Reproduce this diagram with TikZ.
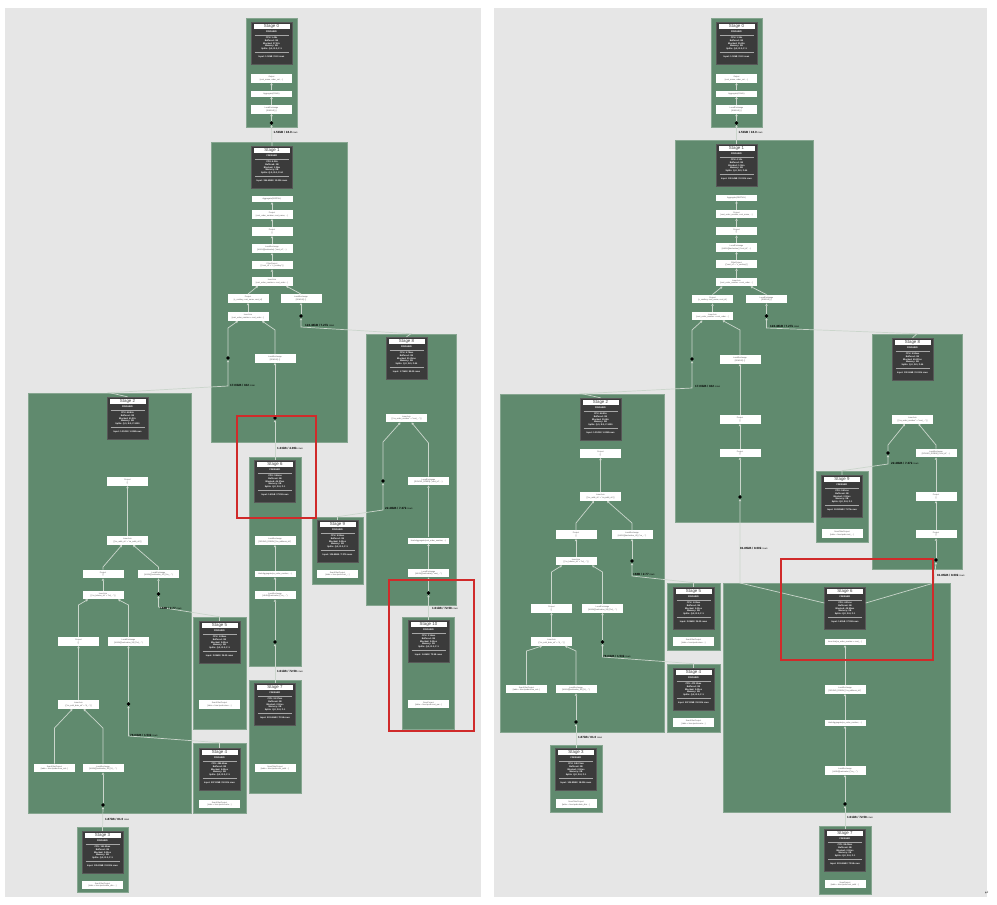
\documentclass[tikz,border=0pt]{standalone}
\usepackage{fontspec}
\setmainfont{Liberation Sans}
\newfontfamily\dejavu{DejaVu Sans}
\usetikzlibrary{arrows.meta}
\definecolor{panelgray}{HTML}{E6E6E6}
\definecolor{stggreen}{HTML}{608A6E}
\definecolor{stgborder}{HTML}{86A690}
\definecolor{dkgray}{HTML}{3B3B3B}
\definecolor{dkborder}{HTML}{575757}
\definecolor{headtext}{HTML}{444444}
\definecolor{optext}{HTML}{555555}
\definecolor{connc}{HTML}{CBD6CC}
\definecolor{redc}{HTML}{D02A2A}
\tikzset{
 panel/.style={fill=panelgray,draw=none},
 stg/.style={fill=stggreen,draw=stgborder,line width=0.6pt,inner sep=0pt},
 dk/.style={fill=dkgray,draw=dkborder,line width=0.4pt,minimum width=41pt,minimum height=42pt,inner sep=0pt},
 dkhead/.style={fill=white,minimum width=36pt,minimum height=5.5pt,inner sep=0pt,font=\fontsize{4.4}{4.4}\selectfont,text=headtext},
 dkfin/.style={text=white,font=\fontsize{2.3}{2.3}\selectfont\bfseries,inner sep=0pt},
 dkstat/.style={text=white,font=\fontsize{2.2}{2.8}\selectfont\bfseries,align=center,inner sep=0pt},
 dksep/.style={draw=white!55!dkgray,line width=0.3pt},
 opbox/.style={fill=white,minimum width=41pt,minimum height=8.5pt,inner sep=0pt,align=center,font=\fontsize{2}{2.5}\selectfont,text=optext},
 oponebox/.style={opbox,minimum height=6pt},
 conn/.style={draw=connc,line width=0.7pt},
 arr/.style={conn,-{Triangle[width=2.4pt,length=2.2pt]}},
 rdotst/.style={circle,fill=black,minimum size=3.6pt,inner sep=0pt},
 elabst/.style={anchor=west,inner sep=0pt,font=\fontsize{3}{3}\selectfont,text=black},
 redbox/.style={draw=redc,line width=1.1pt},
}
\newcommand\stgbox[5]{%
 \pgfmathsetmacro\mysw{#4-#2}\pgfmathsetmacro\mysh{#5-#3}%
 \pgfmathsetmacro\mycx{(#2+#4)/2}\pgfmathsetmacro\mycy{(#3+#5)/2}%
 \node[stg,minimum width=\mysw pt,minimum height=\mysh pt] (#1) at (\mycx,\mycy) {};}
\newcommand\dkn[6]{%
 \node[dk] (#1) at (#2,#3+21) {};
 \node[dkhead] (#1-h) at (#2,#3+4.5) {Stage #4};
 \node[dkfin] (#1-f) at (#2,#3+10) {FINISHED};
 \draw[dksep] (#2-17,#3+13) -- (#2+17,#3+13);
 \node[dkstat] (#1-s) at (#2,#3+21.5) {#5};
 \draw[dksep] (#2-17,#3+30.5) -- (#2+17,#3+30.5);
 \node[dkstat] (#1-i) at (#2,#3+35) {#6};}
\newcommand\opn[5]{\node[opbox] (#1) at (#2,#3) {#4\\{}#5};}
\newcommand\opo[4]{\node[oponebox] (#1) at (#2,#3) {#4};}
\newcommand\rdt[3]{\node[rdotst] (#1) at (#2,#3) {};}
\newcommand\elb[4]{\node[elabst] (#1) at (#2,#3) {\textbf{#4} {\fontsize{2.4}{2.4}\selectfont rows}};}
\begin{document}
\begin{tikzpicture}[x=1pt,y=-1pt]
\useasboundingbox (0,0) rectangle (997,905);
\fill[white] (0,0) rectangle (997,905);
\fill[panel] (5,8) rectangle (481,897);
\fill[panel] (494,8) rectangle (987,897);
\node[font=\fontsize{5}{5}\selectfont\dejavu,text=black!70,inner sep=0pt] (ret) at (987,893) {↵};

% ================= LEFT PANEL =================
\stgbox{L0}{246}{18}{297}{127}
\stgbox{L1}{211}{142}{347}{442}
\stgbox{L2}{28}{393}{191}{813}
\stgbox{L3}{77}{827}{128}{892}
\stgbox{L4}{193}{743}{246}{813}
\stgbox{L5}{193}{617}{246}{729}
\stgbox{L6}{249}{457}{301}{666}
\stgbox{L7}{249}{680}{301}{793}
\stgbox{L8}{366}{334}{456}{605}
\stgbox{L9}{312}{517}{363}{584}
\stgbox{L10}{402.5}{617}{454.5}{729}

\dkn{L0dk}{271.5}{22}{0}{CPU: 1.48s\\Buffered: 0B\\Blocked: 27.02s\\Memory: 0B\\Splits: Q:0, R:0, F:1}{Input: 1.50kB / 18.0 rows}
\opn{L0a}{271.5}{78.5}{Output}{[cust\_name, order\_cnt, ...]}
\opo{L0b}{271.5}{93.5}{Aggregate(FINAL)}
\opn{L0c}{271.5}{109.5}{LocalExchange}{[SINGLE] ()}
\rdt{L0r}{271.5}{123}

\dkn{L1dk}{272}{146}{1}{CPU: 4.38s\\Buffered: 0B\\Blocked: 1.25m\\Memory: 0B\\Splits: Q:0, R:0, F:44}{Input: 356.60kB / 10.00k rows}
\opo{L1a}{272}{199}{Aggregate(PARTIAL)}
\opn{L1b}{272}{214.5}{Project}{[cust\_order\_number, cust\_name, ...]}
\opn{L1c}{272}{231.5}{Project}{[]}
\opn{L1d}{272}{248.5}{LocalExchange}{[HASH][hashvalue] ("cust\_id", ...)}
\opn{L1e}{272}{265}{FilterProject}{[("cust\_id" = "c\_custkey")]}
\opn{L1f}{272}{281.5}{InnerJoin}{[cust\_order\_number = cust\_order ...]}
\opn{L1g}{248}{298.5}{Project}{[c\_custkey, cust\_name, cust\_id]}
\opn{L1h}{301}{298.5}{LocalExchange}{[SINGLE] ()}
\opn{L1i}{248}{316.5}{InnerJoin}{[cust\_order\_number = cust\_order ...]}
\opn{L1j}{275}{358.5}{LocalExchange}{[SINGLE] ()}
\rdt{L1r1}{301}{316}
\rdt{L1r2}{228}{358}
\rdt{L1r3}{275}{418}

\dkn{L2dk}{127.5}{397}{2}{CPU: 48.84s\\Buffered: 0B\\Blocked: 41.22s\\Memory: 0B\\Splits: Q:0, R:0, F:1000}{Input: 1.31GB / 1.00M rows}
\opn{L2a}{127.5}{481.5}{Project}{[]}
\opn{L2b}{127.5}{540.5}{InnerJoin}{[("ss\_addr\_sk" = "ca\_addr\_sk")]}
\opn{L2c}{103}{574}{Project}{[]}
\opn{L2d}{158.5}{574}{LocalExchange}{[HASH][hashvalue\_41] ("ca\_...")}
\opn{L2e}{103}{595}{InnerJoin}{[("ss\_hdemo\_sk" = "hd\_...")]}
\opn{L2f}{78.5}{641.5}{Project}{[]}
\opn{L2g}{128.5}{641.5}{LocalExchange}{[HASH][hashvalue\_38] ("hd\_...")}
\opn{L2h}{78.5}{704.5}{InnerJoin}{[("ss\_sold\_date\_sk" = "d\_...")]}
\opn{L2i}{54.5}{768}{ScanFilterProject}{[table = hive:tpcds:store\_sal...]}
\opn{L2j}{103}{768}{LocalExchange}{[HASH][hashvalue\_35] ("d\_...")}
\rdt{L2r1}{158.5}{594}
\rdt{L2r2}{128.5}{704}
\rdt{L2r3}{103}{805}

\dkn{L3dk}{102.5}{831}{3}{CPU: 151.40ms\\Buffered: 0B\\Blocked: 0.00ns\\Memory: 0B\\Splits: Q:0, R:0, F:1}{Input: 105.83kB / 18.00k rows}
\opn{L3a}{102.5}{885}{ScanFilterProject}{[table = hive:tpcds:date\_dim ...]}
\dkn{L4dk}{219.5}{748}{4}{CPU: 485.63ms\\Buffered: 0B\\Blocked: 0.00ns\\Memory: 0B\\Splits: Q:0, R:0, F:1}{Input: 507.82kB / 50.00k rows}
\opn{L4a}{219.5}{804}{ScanFilterProject}{[table = hive:tpcds:custo...]}
\dkn{L5dk}{219.5}{621}{5}{CPU: 1.08ms\\Buffered: 0B\\Blocked: 0.00ns\\Memory: 0B\\Splits: Q:0, R:0, F:1}{Input: 2.05kB / 24.00 rows}
\opn{L5a}{219.5}{704.5}{ScanFilterProject}{[table = hive:tpcds:store ...]}
\dkn{L6dk}{275}{460}{6}{CPU: 3.46ms\\Buffered: 0B\\Blocked: 46.37ms\\Memory: 0B\\Splits: Q:0, R:0, F:1}{Input: 1.61kB / 72.58 rows}
\opn{L6a}{275}{540.5}{LocalExchange}{[ROUND\_ROBIN] ("ca\_address\_sk")}
\opo{L6b}{275}{574}{HashAggregate(ca\_order\_number, ...)}
\opn{L6c}{275}{595}{LocalExchange}{[HASH][hashvalue] ("ca\_...")}
\rdt{L6r}{275}{642}
\dkn{L7dk}{275}{683}{7}{CPU: 91.37ms\\Buffered: 0B\\Blocked: 0.00ns\\Memory: 0B\\Splits: Q:0, R:0, F:1}{Input: 503.46kB / 72.58 rows}
\opn{L7a}{275}{768}{ScanFilterProject}{[table = hive:tpcds:cust\_addr ...]}
\dkn{L8dk}{406.5}{337}{8}{CPU: 5.78ms\\Buffered: 0B\\Blocked: 51.20ms\\Memory: 0B\\Splits: Q:0, R:0, F:44}{Input: 1.71kB / 85.00 rows}
\opn{L8a}{406.5}{418}{InnerJoin}{[("ca\_order\_number" = "cust\_...")]}
\opn{L8b}{428.5}{481}{LocalExchange}{[ROUND\_ROBIN] ("cust\_id", ...)}
\opo{L8c}{428.5}{540.5}{HashAggregate(cust\_order\_number, ...)}
\opn{L8d}{428.5}{573}{LocalExchange}{[HASH][hashvalue] ("cust\_...")}
\rdt{L8r1}{383}{481}
\rdt{L8r2}{428.5}{593}
\dkn{L9dk}{337.5}{520}{9}{CPU: 9.95ms\\Buffered: 0B\\Blocked: 0.00ns\\Memory: 0B\\Splits: Q:0, R:0, F:1}{Input: 124.85kB / 7.27k rows}
\opn{L9a}{337.5}{574}{ScanFilterProject}{[table = hive:tpcds:cust\_...]}
\dkn{L10dk}{428.5}{620}{10}{CPU: 2.16ms\\Buffered: 0B\\Blocked: 0.00ns\\Memory: 0B\\Splits: Q:0, R:0, F:1}{Input: 1.61kB / 72.58 rows}
\opn{L10a}{428.5}{704}{ScanProject}{[table = hive:tpcds:cust\_par...]}

% edges inside left stages
\draw[arr] (L0b.north) -- (L0a.south);
\draw[arr] (L0c.north) -- (L0b.south);
\draw[arr] (L0r.north) -- (L0c.south);
\draw[arr] (L1b.north) -- (L1a.south);
\draw[arr] (L1c.north) -- (L1b.south);
\draw[arr] (L1d.north) -- (L1c.south);
\draw[arr] (L1e.north) -- (L1d.south);
\draw[arr] (L1f.north) -- (L1e.south);
\draw[arr] (L1g.north) -- ([xshift=-14pt]L1f.south);
\draw[arr] (L1h.north) -- ([xshift=14pt]L1f.south);
\draw[arr] (L1i.north) -- (L1g.south);
\draw[arr] (L1r1.north) -- (L1h.south);
\draw[arr] (L1r2.north) -- (228,328) -- ([xshift=-10pt]L1i.south);
\draw[arr] (L1j.north) -- (275,330) -- ([xshift=14pt]L1i.south);
\draw[arr] (L1r3.north) -- (L1j.south);
\draw[arr] (L2b.north) -- (L2a.south);
\draw[arr] (L2c.north) -- (103,567) -- ([xshift=-5.5pt]L2b.south);
\draw[arr] (L2d.north) -- (158.5,567) -- ([xshift=5.5pt]L2b.south);
\draw[arr] (L2e.north) -- (L2c.south);
\draw[arr] (L2f.north) -- (78.5,605) -- ([xshift=-15pt]L2e.south);
\draw[arr] (L2g.north) -- (128.5,605) -- ([xshift=15pt]L2e.south);
\draw[arr] (L2h.north) -- (L2f.south);
\draw[arr] (L2r1.north) -- (L2d.south);
\draw[arr] (L2r2.north) -- (L2g.south);
\draw[arr] (L2i.north) -- (54.5,728) -- ([xshift=-6pt]L2h.south);
\draw[arr] (L2j.north) -- (103,728) -- ([xshift=5pt]L2h.south);
\draw[arr] (L2r3.north) -- (L2j.south);
\draw[arr] (L6b.north) -- (L6a.south);
\draw[arr] (L6c.north) -- (L6b.south);
\draw[arr] (L6r.north) -- (L6c.south);
\draw[arr] (L8r1.north) -- (383,442) -- ([xshift=-6pt]L8a.south);
\draw[arr] (L8b.north) -- (428.5,443) -- ([xshift=5pt]L8a.south);
\draw[arr] (L8c.north) -- (L8b.south);
\draw[arr] (L8d.north) -- (L8c.south);
\draw[arr] (L8r2.north) -- (L8d.south);

% cross-stage edges left
\draw[arr] (L1dk.north) -- (L0r.south);
\draw[arr] (L8dk.north) -- (L8.north) -- (301,327) -- (L1r1.south);
\draw[arr] (L2dk.north) -- (L2.north) -- (228,386) -- (L1r2.south);
\draw[arr] (L6dk.north) -- (L1r3.south);
\draw[arr] (L9dk.north) -- (L9.north) -- (383,510) -- (L8r1.south);
\draw[arr] (L10dk.north) -- (L8r2.south);
\draw[arr] (L5dk.north) -- (L5.north) -- (158.5,607) -- (L2r1.south);
\draw[arr] (L4dk.north) -- (L4.north) -- (128.5,736) -- (L2r2.south);
\draw[arr] (L3dk.north) -- (L2r3.south);
\draw[arr] (L7dk.north) -- (L6r.south);

\elb{Lt1}{273.5}{132}{1.50kB / 18.0}
\elb{Lt2}{305}{325}{122.48kB / 7.27k}
\elb{Lt3}{230}{385}{17.03kB / 102}
\elb{Lt4}{277}{448}{1.33kB / 4.00k}
\elb{Lt5}{385}{508}{22.48kB / 7.27k}
\elb{Lt6}{432}{608}{1.61kB / 72.58}
\elb{Lt7}{160}{608}{168B / 2.77}
\elb{Lt8}{130}{735}{78.03kB / 1.53k}
\elb{Lt9}{105}{819}{1.87kB / 81.0}
\elb{Lt10}{277}{671}{1.61kB / 72.58}

% ================= RIGHT PANEL =================
\stgbox{R0}{711}{18}{762}{127}
\stgbox{R1}{675}{140}{813}{522}
\stgbox{R2}{500}{394}{664}{732}
\stgbox{R3}{550}{745}{602}{812}
\stgbox{R4}{667}{664}{720}{732}
\stgbox{R5}{667}{583}{720}{650}
\stgbox{R6}{723}{583}{950}{812}
\stgbox{R7}{819}{826}{871}{894}
\stgbox{R8}{872}{334}{962}{569}
\stgbox{R9}{816}{471}{868}{542}

\dkn{R0dk}{736.5}{22}{0}{CPU: 1.36s\\Buffered: 0B\\Blocked: 25.80s\\Memory: 0B\\Splits: Q:0, R:0, F:1}{Input: 1.50kB / 18.0 rows}
\opn{R0a}{736.5}{78.5}{Output}{[cust\_name, order\_cnt, ...]}
\opo{R0b}{736.5}{93.5}{Aggregate(FINAL)}
\opn{R0c}{736.5}{109.5}{LocalExchange}{[SINGLE] ()}
\rdt{R0r}{736.5}{123}

\dkn{R1dk}{736.5}{144}{1}{CPU: 4.12s\\Buffered: 0B\\Blocked: 1.18m\\Memory: 0B\\Splits: Q:0, R:0, F:44}{Input: 102.64kB / 10.00k rows}
\opo{R1a}{736.5}{198}{Aggregate(PARTIAL)}
\opn{R1b}{736.5}{214}{Project}{[cust\_order\_number, cust\_name, ...]}
\opn{R1c}{736.5}{231}{Project}{[]}
\opn{R1d}{736.5}{247.5}{LocalExchange}{[HASH][hashvalue] ("cust\_id", ...)}
\opn{R1e}{736.5}{264}{FilterProject}{[("cust\_id" = "c\_custkey")]}
\opn{R1f}{736.5}{282}{InnerJoin}{[cust\_order\_number = cust\_order ...]}
\opn{R1g}{712.5}{299}{Project}{[c\_custkey, cust\_name, cust\_id]}
\opn{R1h}{766.5}{299}{LocalExchange}{[SINGLE] ()}
\opn{R1i}{712.5}{316}{InnerJoin}{[cust\_order\_number = cust\_order ...]}
\opn{R1j}{740}{359.5}{LocalExchange}{[SINGLE] ()}
\opn{R1k}{740}{419.5}{Project}{[]}
\opn{R1l}{740}{453}{Project}{[]}
\rdt{R1r1}{766.5}{316}
\rdt{R1r2}{692}{359}
\rdt{R1r3}{740}{497}

\dkn{R2dk}{600.5}{398}{2}{CPU: 46.95s\\Buffered: 0B\\Blocked: 39.68s\\Memory: 0B\\Splits: Q:0, R:0, F:1000}{Input: 1.31GB / 1.00M rows}
\opn{R2a}{600.5}{453.5}{Project}{[]}
\opn{R2b}{600.5}{496.5}{InnerJoin}{[("ss\_addr\_sk" = "ca\_addr\_sk")]}
\opn{R2c}{576}{534.5}{Project}{[]}
\opn{R2d}{632}{534.5}{LocalExchange}{[HASH][hashvalue\_41] ("ca\_...")}
\opn{R2e}{576}{561}{InnerJoin}{[("ss\_hdemo\_sk" = "hd\_...")]}
\opn{R2f}{551.5}{608.5}{Project}{[]}
\opn{R2g}{602.5}{608.5}{LocalExchange}{[HASH][hashvalue\_38] ("hd\_...")}
\opn{R2h}{551.5}{641.5}{InnerJoin}{[("ss\_sold\_date\_sk" = "d\_...")]}
\opn{R2i}{526.5}{689}{ScanFilterProject}{[table = hive:tpcds:store\_sal...]}
\opn{R2j}{576}{689}{LocalExchange}{[HASH][hashvalue\_35] ("d\_...")}
\rdt{R2r1}{632}{561}
\rdt{R2r2}{602.5}{642}
\rdt{R2r3}{576}{722}

\dkn{R3dk}{576}{748}{3}{CPU: 148.21ms\\Buffered: 0B\\Blocked: 0.00ns\\Memory: 0B\\Splits: Q:0, R:0, F:1}{Input: 105.83kB / 18.00k rows}
\opn{R3a}{576}{803.5}{ScanFilterProject}{[table = hive:tpcds:date\_dim ...]}
\dkn{R4dk}{693.5}{668}{4}{CPU: 472.10ms\\Buffered: 0B\\Blocked: 0.00ns\\Memory: 0B\\Splits: Q:0, R:0, F:1}{Input: 507.82kB / 50.00k rows}
\opn{R4a}{693.5}{722.5}{ScanFilterProject}{[table = hive:tpcds:custo...]}
\dkn{R5dk}{693.5}{587}{5}{CPU: 1.02ms\\Buffered: 0B\\Blocked: 0.00ns\\Memory: 0B\\Splits: Q:0, R:0, F:1}{Input: 2.05kB / 24.00 rows}
\opn{R5a}{693.5}{641.5}{ScanFilterProject}{[table = hive:tpcds:store ...]}
\dkn{R6dk}{845}{587}{6}{CPU: 4.01ms\\Buffered: 0B\\Blocked: 48.92ms\\Memory: 0B\\Splits: Q:0, R:0, F:1}{Input: 1.61kB / 72.58 rows}
\opo{R6a}{845}{642}{InnerJoin[ca\_order\_number = cust\_...]}
\opn{R6b}{845}{689.5}{LocalExchange}{[ROUND\_ROBIN] ("ca\_address\_sk")}
\opo{R6c}{845}{723}{HashAggregate(ca\_order\_number, ...)}
\opn{R6d}{845}{770.5}{LocalExchange}{[HASH][hashvalue] ("ca\_...")}
\rdt{R6r}{845}{804}
\dkn{R7dk}{845}{829}{7}{CPU: 88.45ms\\Buffered: 0B\\Blocked: 0.00ns\\Memory: 0B\\Splits: Q:0, R:0, F:1}{Input: 503.46kB / 72.58 rows}
\opn{R7a}{845}{884}{ScanProject}{[table = hive:tpcds:cust\_addr ...]}
\dkn{R8dk}{912.5}{338}{8}{CPU: 5.52ms\\Buffered: 0B\\Blocked: 49.87ms\\Memory: 0B\\Splits: Q:0, R:0, F:44}{Input: 102.66kB / 10.00k rows}
\opn{R8a}{912.5}{419.5}{InnerJoin}{[("ca\_order\_number" = "cust\_...")]}
\opn{R8b}{936}{453}{LocalExchange}{[ROUND\_ROBIN] ("cust\_id", ...)}
\opn{R8c}{936}{496.5}{Project}{[]}
\opn{R8d}{936}{534}{Project}{[]}
\rdt{R8r1}{888}{453}
\rdt{R8r2}{936}{560}
\dkn{R9dk}{842}{475}{9}{CPU: 9.61ms\\Buffered: 0B\\Blocked: 0.00ns\\Memory: 0B\\Splits: Q:0, R:0, F:1}{Input: 124.85kB / 7.27k rows}
\opn{R9a}{842}{533.5}{ScanFilterProject}{[table = hive:tpcds:cust\_...]}

% edges inside right stages
\draw[arr] (R0b.north) -- (R0a.south);
\draw[arr] (R0c.north) -- (R0b.south);
\draw[arr] (R0r.north) -- (R0c.south);
\draw[arr] (R1b.north) -- (R1a.south);
\draw[arr] (R1c.north) -- (R1b.south);
\draw[arr] (R1d.north) -- (R1c.south);
\draw[arr] (R1e.north) -- (R1d.south);
\draw[arr] (R1f.north) -- (R1e.south);
\draw[arr] (R1g.north) -- ([xshift=-14pt]R1f.south);
\draw[arr] (R1h.north) -- ([xshift=14pt]R1f.south);
\draw[arr] (R1i.north) -- (R1g.south);
\draw[arr] (R1r1.north) -- (R1h.south);
\draw[arr] (R1r2.north) -- (692,330) -- ([xshift=-10pt]R1i.south);
\draw[arr] (R1j.north) -- (740,330) -- ([xshift=10pt]R1i.south);
\draw[arr] (R1k.north) -- (R1j.south);
\draw[arr] (R1l.north) -- (R1k.south);
\draw[arr] (R1r3.north) -- (R1l.south);
\draw[arr] (R2b.north) -- (R2a.south);
\draw[arr] (R2c.north) -- (576,523) -- ([xshift=-6.5pt]R2b.south);
\draw[arr] (R2d.north) -- (632,523) -- ([xshift=6.5pt]R2b.south);
\draw[arr] (R2e.north) -- (R2c.south);
\draw[arr] (R2f.north) -- (551.5,572) -- ([xshift=-14pt]R2e.south);
\draw[arr] (R2g.north) -- (602.5,572) -- ([xshift=16pt]R2e.south);
\draw[arr] (R2h.north) -- (R2f.south);
\draw[arr] (R2r1.north) -- (R2d.south);
\draw[arr] (R2r2.north) -- (R2g.south);
\draw[arr] (R2i.north) -- (526.5,651) -- ([xshift=-9.5pt]R2h.south);
\draw[arr] (R2j.north) -- (576,651) -- ([xshift=13.5pt]R2h.south);
\draw[arr] (R2r3.north) -- (R2j.south);
\draw[arr] (R6b.north) -- (R6a.south);
\draw[arr] (R6c.north) -- (R6b.south);
\draw[arr] (R6d.north) -- (R6c.south);
\draw[arr] (R6r.north) -- (R6d.south);
\draw[arr] (R8r1.north) -- (888,445) -- ([xshift=-7.5pt]R8a.south);
\draw[arr] (R8b.north) -- (936,445) -- ([xshift=6pt]R8a.south);
\draw[arr] (R8c.north) -- (R8b.south);
\draw[arr] (R8d.north) -- (R8c.south);
\draw[arr] (R8r2.north) -- (R8d.south);

% cross-stage edges right
\draw[arr] (R1dk.north) -- (R0r.south);
\draw[arr] (R8dk.north) -- (R8.north) -- (766.5,328) -- (R1r1.south);
\draw[arr] (R2dk.north) -- (R2.north) -- (692,388) -- (R1r2.south);
\draw[arr] ([yshift=5pt]R6dk.west) -- (740,583) -- (R1r3.south);
\draw[arr] ([yshift=5pt]R6dk.east) -- (934,583) -- (R8r2.south);
\draw[arr] (R9dk.north) -- (R9.north) -- (888,464) -- (R8r1.south);
\draw[arr] (R5dk.north) -- (R5.north) -- (632,576) -- (R2r1.south);
\draw[arr] (R4dk.north) -- (R4.north) -- (602.5,657) -- (R2r2.south);
\draw[arr] (R3dk.north) -- (R2r3.south);
\draw[arr] (R7dk.north) -- (R6r.south);

\elb{Rt1}{738.5}{132}{1.50kB / 18.0}
\elb{Rt2}{770}{326}{122.48kB / 7.27k}
\elb{Rt3}{695}{386}{17.03kB / 102}
\elb{Rt4}{740}{548}{81.86kB / 8.00k}
\elb{Rt5}{891}{463}{22.48kB / 7.27k}
\elb{Rt6}{937}{575}{81.86kB / 8.00k}
\elb{Rt7}{847}{817}{1.61kB / 72.58}
\elb{Rt8}{633}{574}{168B / 2.77}
\elb{Rt9}{603}{656}{78.03kB / 1.53k}
\elb{Rt10}{578}{737}{1.87kB / 81.0}

% red highlight frames
\draw[redbox] (237,416) rectangle (316,518);
\draw[redbox] (389,580) rectangle (474,731);
\draw[redbox] (781,559) rectangle (933,660);
\end{tikzpicture}
\end{document}
